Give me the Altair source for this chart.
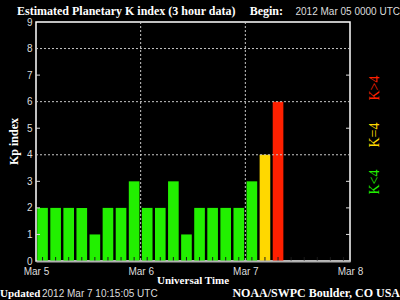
import altair as alt
import pandas as pd

# ---- data ----
bin_start_hours = [0, 3, 6, 9, 12, 15, 18, 21,
                   24, 27, 30, 33, 36, 39, 42, 45,
                   48, 51, 54]
kp_values = [2, 2, 2, 2, 1, 2, 2, 3,
             2, 2, 3, 1, 2, 2, 2, 2,
             3, 4, 6]
day_hours = [0, 24, 48, 72]
day_labels = ["Mar 5", "Mar 6", "Mar 7", "Mar 8"]
kp_ticks = [0, 1, 2, 3, 4, 5, 6, 7, 8, 9]
grid_kp = [4, 6, 8]
grid_hours = [24, 48]
tick_kp = [1, 2, 3, 5, 7]
minor_tick_hours = [h + 1.5 for h in range(0, 72, 3)]

class_domain = ["lt", "eq", "gt"]
class_colors = ["#22f000", "#ffd800", "#ff2000"]

W, H = 314, 239

df = pd.DataFrame({"h": bin_start_hours, "kp": kp_values})

xscale = alt.Scale(domain=[0, 72], nice=False, zero=False)
yscale = alt.Scale(domain=[0, 9], nice=False)

label_expr = "[" + ",".join("'%s'" % s for s in day_labels) + "][round(datum.value / 24)]"

xaxis = alt.Axis(values=day_hours, labelExpr=label_expr, title=None,
                 ticks=False, labelPadding=5, labelFontSize=10, labelFlush=False,
                 labelFont="Liberation Sans", labelColor="#dddddd",
                 domainColor="#b0b0b0", domainWidth=2, grid=False, zindex=1)
yaxis = alt.Axis(values=kp_ticks, title=None, ticks=False,
                 labelPadding=4, labelFontSize=10,
                 labelFont="Liberation Sans", labelColor="#dddddd",
                 domain=False, grid=False)

bars = alt.Chart(df).transform_calculate(
    x0="datum.h + 0.28",
    x1="datum.h + 2.72",
    cls="datum.kp < 4 ? 'lt' : (datum.kp == 4 ? 'eq' : 'gt')",
).mark_rect().encode(
    x=alt.X("x0:Q", scale=xscale, axis=xaxis),
    x2="x1:Q",
    y=alt.Y("kp:Q", scale=yscale, axis=yaxis),
    y2=alt.datum(0),
    color=alt.Color("cls:N", scale=alt.Scale(domain=class_domain, range=class_colors),
                    legend=None),
)

minor = alt.Chart(pd.DataFrame({"h": minor_tick_hours})).mark_rule(
    color="#1a1a1a", strokeWidth=1
).encode(
    x=alt.X("h:Q", scale=xscale, axis=xaxis),
    y=alt.value(H),
    y2=alt.value(H - 4),
)

hgrid = alt.Chart(pd.DataFrame({"k": grid_kp})).mark_rule(
    color="#c8c8c8", strokeDash=[2, 2], strokeWidth=1
).encode(y=alt.Y("k:Q", scale=yscale, axis=yaxis))

vgrid = alt.Chart(pd.DataFrame({"h": grid_hours})).mark_rule(
    color="#c8c8c8", strokeDash=[2, 2], strokeWidth=1
).encode(x=alt.X("h:Q", scale=xscale, axis=xaxis))

lticks = alt.Chart(pd.DataFrame({"k": tick_kp})).mark_rule(
    color="#dddddd"
).encode(y=alt.Y("k:Q", scale=yscale, axis=yaxis), x=alt.value(0), x2=alt.value(4))

rticks = alt.Chart(pd.DataFrame({"k": tick_kp})).mark_rule(
    color="#dddddd"
).encode(y=alt.Y("k:Q", scale=yscale, axis=yaxis), x=alt.value(W - 4), x2=alt.value(W))


def label(text, x, y, font="Liberation Serif", size=12, bold=False, color="white",
          align="left", baseline="alphabetic", angle=0):
    kw = dict(text=text, font=font, fontSize=size, color=color, align=align,
              baseline=baseline, fontWeight="bold" if bold else "normal")
    if angle:
        kw["angle"] = angle
    return alt.Chart(alt.Data(values=[{}])).mark_text(**kw).encode(
        x=alt.value(x), y=alt.value(y))


texts = [
    label("Estimated Planetary K index (3 hour data)", -19, -7, bold=True, size=12),
    label("Begin:", 247, -7, bold=True, size=12, align="right"),
    label("2012 Mar 05 0000 UTC", 364, -7, font="Liberation Sans", size=10,
          align="right", color="#dddddd"),
    label("Kp index", -22, H / 2, bold=True, size=12, align="center",
          baseline="middle", angle=270),
    label("Universal Time", W / 2, 262, bold=True, size=11, align="center"),
    label("Updated", -36, 275, size=11, bold=True),
    label("2012 Mar  7 10:15:05 UTC", 6, 275, font="Liberation Sans", size=10,
          color="#dddddd"),
    label("NOAA/SWPC Boulder, CO USA", 364, 275, bold=True, size=12, align="right"),
    label("K<4", 339, 160, size=14, color=class_colors[0], align="center",
          baseline="middle", angle=270),
    label("K=4", 339, 113, size=14, color=class_colors[1], align="center",
          baseline="middle", angle=270),
    label("K>4", 339, 66, size=14, color=class_colors[2], align="center",
          baseline="middle", angle=270),
]

chart = alt.layer(bars, minor, hgrid, vgrid, lticks, rticks, *texts).properties(
    width=W, height=H,
    padding={"left": 36, "top": 22, "right": 50, "bottom": 39},
    autosize=alt.AutoSizeParams(type="none"),
    background="black",
).configure_view(stroke="white", strokeWidth=1.5)

chart.save("out.html", embed_options={"renderer": "svg", "actions": False})
